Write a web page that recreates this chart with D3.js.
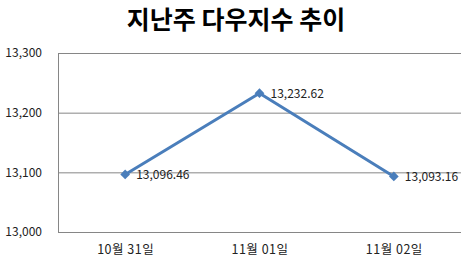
<!DOCTYPE html>
<html><head><meta charset="utf-8">
<script src="https://cdn.jsdelivr.net/npm/d3@7"></script>
<style>body{margin:0;background:#fff;}svg{display:block;}</style>
</head><body>
<script>
const title = "지난주 다우지수 추이";
const categories = ["10월 31일", "11월 01일", "11월 02일"];
const values = [13096.46, 13232.62, 13093.16];
const yTicks = [13000, 13100, 13200, 13300];

const W = 471, H = 264;
const m = {left: 58, right: 10, top: 53, bottom: 32};
const svg = d3.select("body").append("svg").attr("width", W).attr("height", H);
const font = "'Noto Sans CJK KR', 'Noto Sans', sans-serif";

svg.append("text").attr("x", 236).attr("y", 29).attr("text-anchor", "middle")
  .attr("font-family", font).attr("font-weight", "bold").attr("font-size", 25)
  .attr("fill", "#000").text(title);

const x = d3.scalePoint().domain(categories).range([m.left, W - m.right]).padding(0.5);
const y = d3.scaleLinear().domain([13000, 13300]).range([H - m.bottom, m.top]);

const fmt = d3.format(",");
// grid
svg.append("g").selectAll("line").data(yTicks).join("line")
  .attr("x1", m.left).attr("x2", W - m.right)
  .attr("y1", d => y(d) + 0.5).attr("y2", d => y(d) + 0.5)
  .attr("stroke", "#868686").attr("stroke-width", 1);
// y axis line
svg.append("line").attr("x1", m.left + 0.5).attr("x2", m.left + 0.5)
  .attr("y1", y(13300)).attr("y2", y(13000) + 1).attr("stroke", "#868686");

const yAxis = d3.axisLeft(y).tickValues(yTicks).tickFormat(fmt).tickSize(0).tickPadding(16);
const ga = svg.append("g").attr("transform", `translate(${m.left},0)`).call(yAxis);
ga.select(".domain").remove();
ga.selectAll("text").attr("font-family", font).attr("font-size", 12).attr("fill", "#222");

const xAxis = d3.axisBottom(x).tickSize(0).tickPadding(13);
const gx = svg.append("g").attr("transform", `translate(0,${H - m.bottom})`).call(xAxis);
gx.select(".domain").remove();
gx.selectAll("text").attr("font-family", font).attr("font-size", 12.5).attr("letter-spacing", 0.5).attr("fill", "#222");

const pts = categories.map((c, i) => ({c, v: values[i]}));
svg.append("path").datum(pts)
  .attr("d", d3.line().x(d => x(d.c)).y(d => y(d.v)))
  .attr("fill", "none").attr("stroke", "#4A7EBB").attr("stroke-width", 3).attr("stroke-linejoin", "round");

svg.append("g").selectAll("path").data(pts).join("path")
  .attr("d", d3.symbol(d3.symbolDiamond2, 60))
  .attr("transform", d => `translate(${x(d.c)},${y(d.v)})`)
  .attr("fill", "#4A7EBB");

svg.append("g").selectAll("text").data(pts).join("text")
  .attr("x", d => x(d.c) + 11).attr("y", d => y(d.v) + 5)
  .attr("font-family", font).attr("font-size", 12).attr("fill", "#222")
  .text(d => d3.format(",.2f")(d.v));
</script>
</body></html>
